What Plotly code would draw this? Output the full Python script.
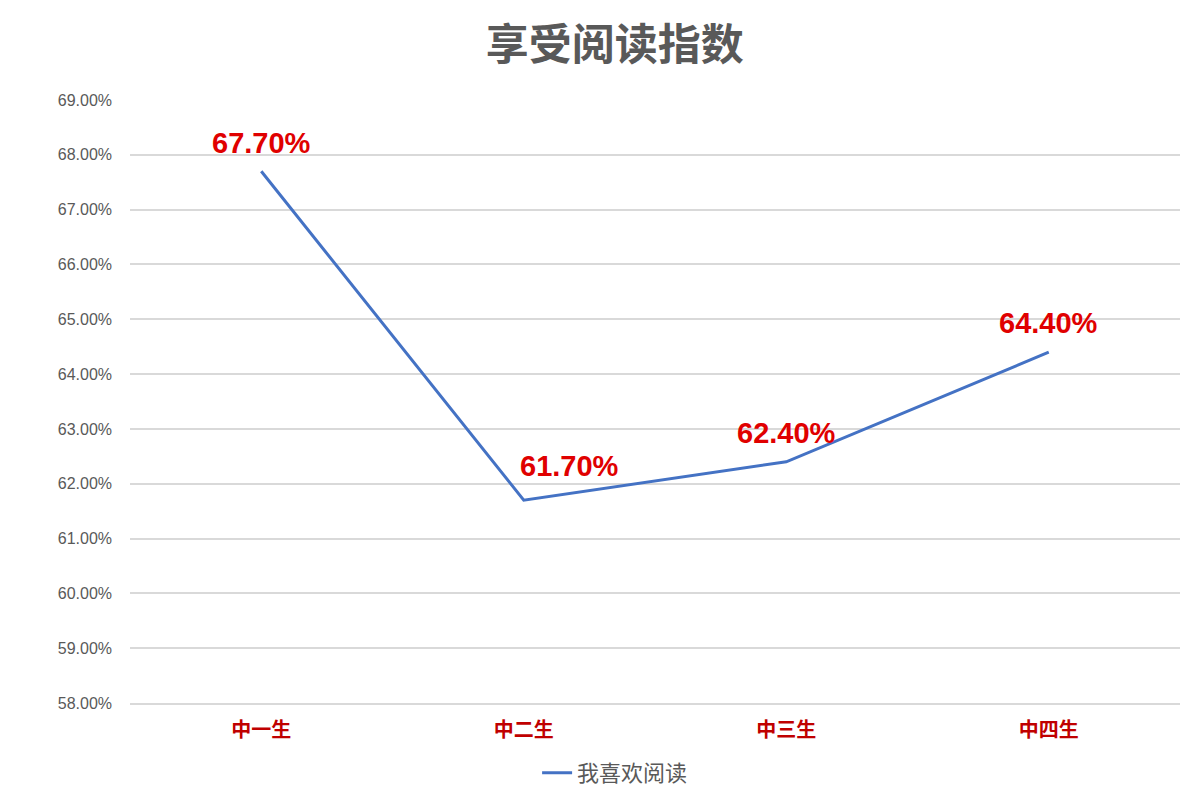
import plotly.graph_objects as go

grades = ['中一生', '中二生', '中三生', '中四生']
enjoy_reading = [67.7, 61.7, 62.4, 64.4]
y_ticks = [58, 59, 60, 61, 62, 63, 64, 65, 66, 67, 68, 69]

# label nudges (px), the 中二生 label sits to the right of its point
label_dx = [0, 46, 0, 0]
label_dy = [28, 34, 29, 29]

FONT = 'Liberation Sans, Arial, Noto Sans CJK SC, sans-serif'
CJK = 'Noto Sans CJK SC, sans-serif'

fig = go.Figure(go.Scatter(
    x=grades,
    y=enjoy_reading,
    mode='lines',
    name='我喜欢阅读',
    line=dict(color='#4472C4', width=3),
))

for g, v, dx, dy in zip(grades, enjoy_reading, label_dx, label_dy):
    fig.add_annotation(
        x=g, y=v, text='<b>%.2f%%</b>' % v, showarrow=False,
        xanchor='center', yanchor='middle', xshift=dx, yshift=dy,
        font=dict(family=FONT, size=29, color='#E00000'),
    )

# page body adds ~8px offset, figure runs a bit past the window bottom
fig.update_layout(
    width=1192, height=799,
    paper_bgcolor='white', plot_bgcolor='white',
    font=dict(family=FONT, color='#595959'),
    margin=dict(l=122, r=20, t=92, b=104),
    title=dict(text='<b>享受阅读指数</b>', x=0.509, xanchor='center', y=1 - 37 / 799, yanchor='middle',
               font=dict(family=CJK, size=43, color='#595959')),
    showlegend=True,
    legend=dict(orientation='h', x=0.462, xanchor='center', y=-0.116, yanchor='middle',
                font=dict(family=CJK, size=22, color='#595959')),
)
fig.update_xaxes(
    range=[-0.5, 3.5],
    showgrid=False, showline=True, linecolor='#D9D9D9', linewidth=1.5, ticks='',
    ticklabelstandoff=8,
    tickfont=dict(family=CJK, size=20, color='#C00000', weight='bold'),
)
fig.update_yaxes(
    range=[58, 69], tickvals=y_ticks, ticktext=['%.2f%%' % v for v in y_ticks],
    showgrid=True, gridcolor='#D9D9D9', gridwidth=1.5, zeroline=False, showline=False,
    ticks='', ticklabelstandoff=17,
    tickfont=dict(family=FONT, size=16, color='#595959'),
)

fig.write_html('out.html')
